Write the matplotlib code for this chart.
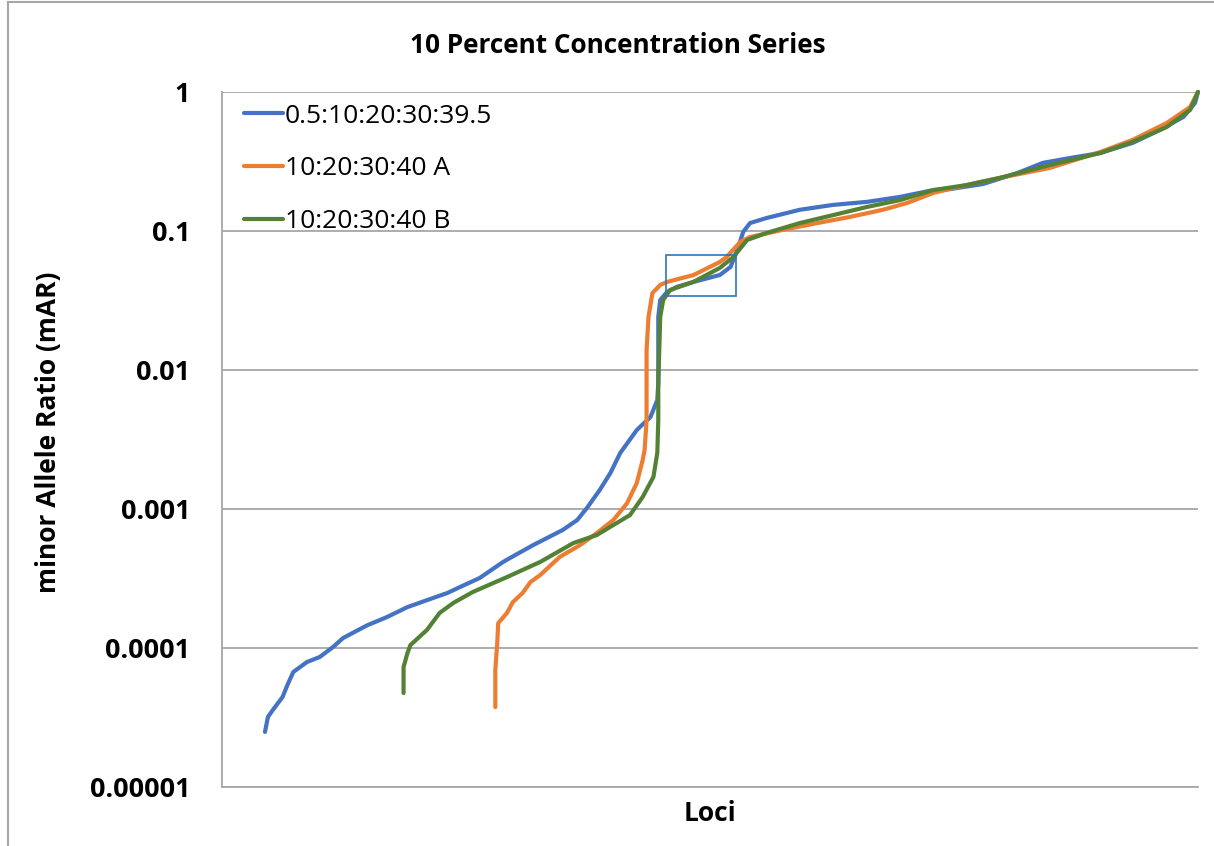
import matplotlib
matplotlib.use("Agg")
import matplotlib.pyplot as plt
from matplotlib.patches import Rectangle
from matplotlib.lines import Line2D

plt.rcParams['font.family'] = ['Open Sans', 'DejaVu Sans']

# sorted minor allele ratios per run (loci index, mAR)
blue_loci = [44, 47, 52, 62, 67, 73, 87, 100, 114, 124, 149, 169, 190, 210, 231, 244,
             264, 288, 295, 319, 349, 364, 374, 387, 398, 408, 425, 439, 446, 447, 447,
             447, 449, 456, 466, 483, 510, 521, 528, 534, 541, 558, 592, 626, 661, 695,
             729, 746, 780, 815, 841, 869, 900, 933, 961, 985, 997, 1000]
blue_mar = [2.49e-5, 3.19e-5, 3.58e-5, 4.44e-5, 5.42e-5, 6.72e-5, 7.93e-5, 8.61e-5,
            1.02e-4, 1.18e-4, 1.46e-4, 1.67e-4, 1.97e-4, 2.21e-4, 2.49e-4, 2.75e-4,
            3.19e-4, 4.16e-4, 4.44e-4, 5.51e-4, 7.06e-4, 8.34e-4, 1.02e-3, 1.37e-3,
            1.82e-3, 2.53e-3, 3.70e-3, 4.59e-3, 6.08e-3, 8.06e-3, 1.39e-2, 2.41e-2,
            3.19e-2, 3.64e-2, 3.96e-2, 4.30e-2, 4.82e-2, 5.51e-2, 7.30e-2, 9.84e-2,
            0.114, 0.124, 0.142, 0.154, 0.162, 0.176, 0.197, 0.200, 0.218, 0.261,
            0.309, 0.335, 0.364, 0.430, 0.533, 0.661, 0.834, 1.0]

orange_loci = [280, 280, 282, 283, 292, 298, 308, 316, 326, 346, 367, 384, 401, 415,
               425, 431, 433, 435, 435, 435, 437, 441, 449, 456, 483, 510, 517, 531,
               541, 575, 610, 643, 677, 702, 729, 763, 797, 848, 900, 933, 968, 992,
               1000]
orange_mar = [3.76e-5, 6.95e-5, 1.09e-4, 1.51e-4, 1.79e-4, 2.14e-4, 2.49e-4, 2.98e-4,
              3.35e-4, 4.52e-4, 5.51e-4, 6.71e-4, 8.34e-4, 1.10e-3, 1.54e-3, 2.25e-3,
              2.66e-3, 4.37e-3, 8.06e-3, 1.39e-2, 2.41e-2, 3.58e-2, 4.09e-2, 4.30e-2,
              4.82e-2, 5.98e-2, 6.50e-2, 8.33e-2, 9.05e-2, 0.102, 0.114, 0.126, 0.142,
              0.159, 0.188, 0.214, 0.241, 0.284, 0.370, 0.452, 0.598, 0.780, 1.0]

green_loci = [186, 186, 190, 193, 210, 223, 237, 257, 292, 326, 360, 384, 401, 418,
              431, 442, 446, 447, 447, 449, 452, 459, 483, 510, 524, 538, 558, 592,
              626, 661, 695, 729, 763, 797, 848, 900, 933, 968, 992, 1000]
green_mar = [4.74e-5, 7.30e-5, 9.20e-5, 1.05e-4, 1.35e-4, 1.79e-4, 2.11e-4, 2.53e-4,
             3.24e-4, 4.16e-4, 5.69e-4, 6.50e-4, 7.67e-4, 9.05e-4, 1.22e-3, 1.70e-3,
             2.53e-3, 4.37e-3, 8.06e-3, 2.41e-2, 3.19e-2, 3.76e-2, 4.30e-2, 5.42e-2,
             6.50e-2, 8.61e-2, 9.68e-2, 0.114, 0.130, 0.149, 0.167, 0.197, 0.214,
             0.241, 0.298, 0.364, 0.437, 0.560, 0.743, 1.0]

series_names = ['0.5:10:20:30:39.5', '10:20:30:40 A', '10:20:30:40 B']
series_colors = ['#4472C4', '#ED7D31', '#548235']
yticks = [1e-5, 1e-4, 1e-3, 1e-2, 1e-1, 1]
ytick_labels = ['0.00001', '0.0001', '0.001', '0.01', '0.1', '1']

fig = plt.figure(figsize=(12.14, 8.46), dpi=100)
ax = fig.add_axes([0.1829, 0.0697, 0.8039, 0.8216])

data = [(blue_loci, blue_mar), (orange_loci, orange_mar), (green_loci, green_mar)]
for (x, y), name, c in zip(data, series_names, series_colors):
    ax.plot(x, y, color=c, lw=3.0, label=name, solid_capstyle='round',
            solid_joinstyle='round', clip_on=False, zorder=3)

# highlight box around the plateau
ax.add_patch(Rectangle((455, 0.0341), 72, 0.0672 - 0.0341, fill=False,
                       edgecolor='#2E75B6', lw=1.2, zorder=4))

ax.set_yscale('log')
ax.set_ylim(1e-5, 1)
ax.set_xlim(0, 1000)
ax.set_yticks(yticks)
ax.set_yticklabels(ytick_labels, fontsize=19.5, fontweight='bold')
ax.yaxis.set_minor_locator(matplotlib.ticker.NullLocator())
ax.set_xticks([])
ax.tick_params(axis='y', length=0, pad=23)
ax.grid(axis='y', color='#A6A6A6', lw=1.3)
ax.set_axisbelow(True)
for s in ['top', 'right']:
    ax.spines[s].set_visible(False)
for s in ['left', 'bottom']:
    ax.spines[s].set_color('#A6A6A6')
    ax.spines[s].set_linewidth(1.3)

ax.set_xlabel('Loci', fontsize=19, fontweight='bold', labelpad=9)
ax.set_ylabel('minor Allele Ratio (mAR)', fontsize=19, fontweight='bold')
ax.yaxis.set_label_coords(-0.164, 0.511)
fig.text(0.509, 0.946, '10 Percent Concentration Series', ha='center', va='center',
         fontsize=18.8, fontweight='bold')

ax.legend(loc='upper left', bbox_to_anchor=(0.006, 1.006), frameon=False, fontsize=19,
          handlelength=1.5, handletextpad=0.05, labelspacing=1.05, borderaxespad=0.2)

# chart area border
fig.add_artist(Line2D([8 / 1214, 8 / 1214], [0, 1 - 2 / 846], color='#A6A6A6', lw=1.5))
fig.add_artist(Line2D([8 / 1214, 1], [1 - 2 / 846, 1 - 2 / 846], color='#A6A6A6', lw=1.5))

fig.savefig('out.png', dpi=100)
